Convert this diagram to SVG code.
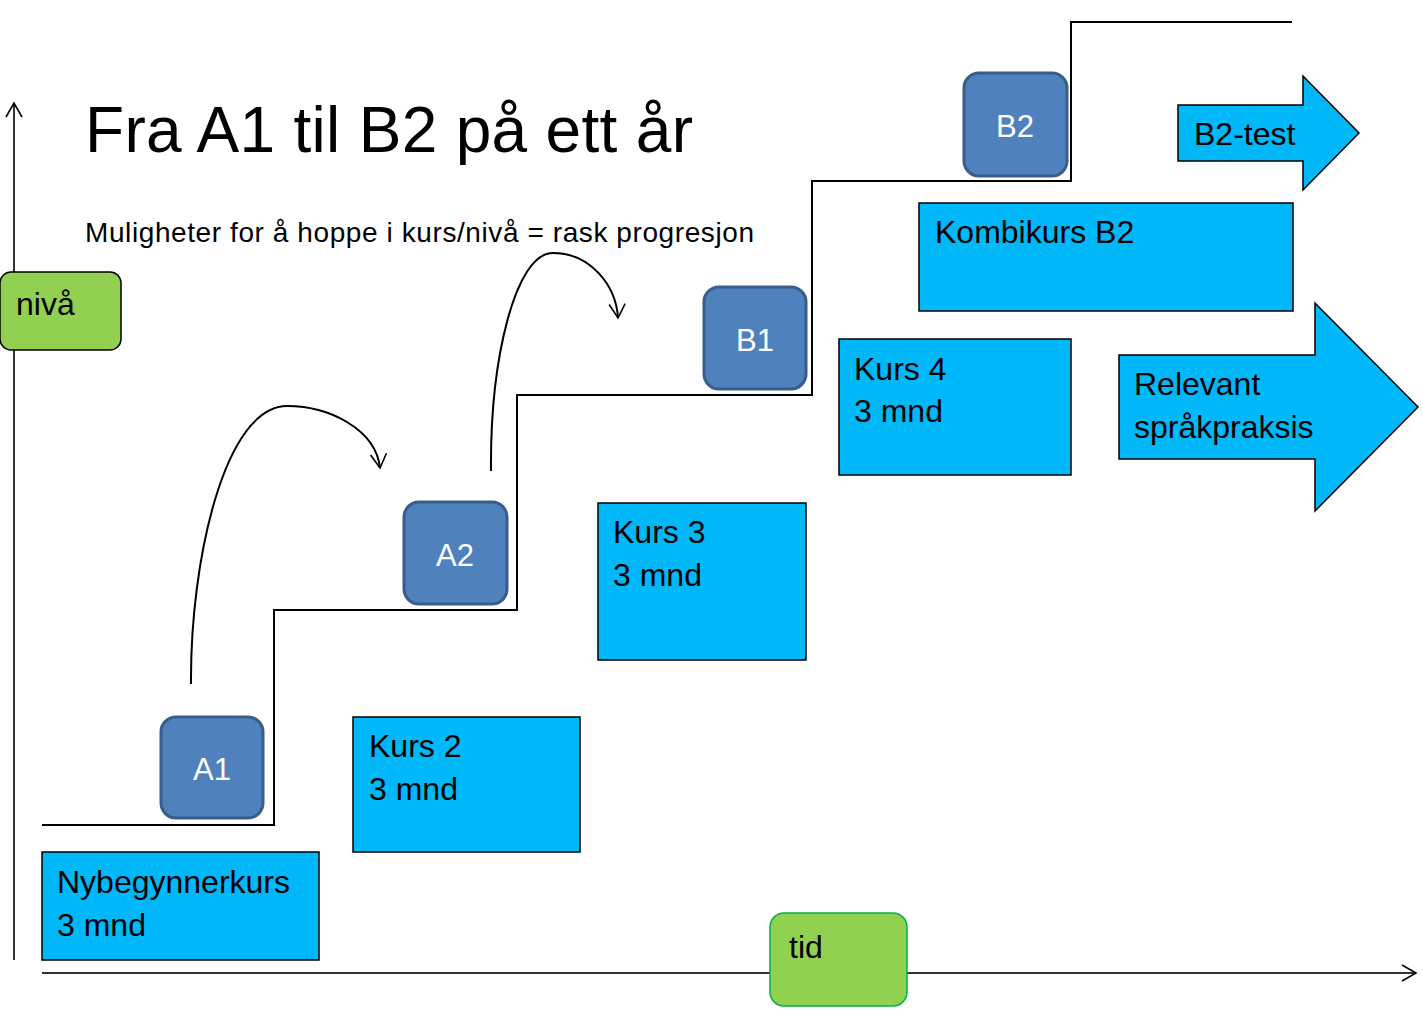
<svg xmlns="http://www.w3.org/2000/svg" width="1423" height="1028" viewBox="0 0 1423 1028">
<style>
text{font-family:"Liberation Sans",Arial,sans-serif;fill:#000}
.lvl rect{fill:#4F81BD;stroke:#385D8A;stroke-width:3}
.lvl text{fill:#fff;font-size:31px;text-anchor:middle}
.kurs rect,.kurs path{fill:#00B7F8;stroke:#000;stroke-width:1.5}
.kurs text{font-size:32px}
.green rect{fill:#92D050}
.green text{font-size:32px}
.line{fill:none;stroke:#000;stroke-width:2}
.axis{fill:none;stroke:#333;stroke-width:2}
</style>
<defs>
<marker id="open" viewBox="0 0 20 20" refX="16" refY="10" markerWidth="20" markerHeight="20" markerUnits="userSpaceOnUse" orient="auto">
<path d="M2,2 L16,10 L2,18" fill="none" stroke="#000" stroke-width="1.6"/>
</marker>
</defs>
<text x="85" y="152" font-size="64" textLength="608">Fra A1 til B2 på ett år</text>
<text x="85" y="242" font-size="28" textLength="669">Muligheter for å hoppe i kurs/nivå = rask progresjon</text>
<g id="connectors">
<path class="axis" d="M14,960 L14,103" marker-end="url(#open)"/>
<path class="axis" d="M42,973 L1416,973" marker-end="url(#open)"/>
<path class="line" d="M42,825 L274,825 L274,610 L517,610 L517,395 L812,395 L812,181 L1071,181 L1071,22 L1292,22"/>
<path class="line" stroke-width="1.5" d="M191,684 C190,560 225,406 287,406 C330,406 376,430 380,468" marker-end="url(#open)"/>
<path class="line" stroke-width="1.5" d="M491,471 C490,360 515,253 553,253 C590,253 616,285 618,318" marker-end="url(#open)"/>
</g>
<g id="niva" class="green"><rect x="0" y="272" width="121" height="78" rx="11" stroke="#000" stroke-width="1.5"/><text x="16" y="315">nivå</text></g>
<g id="tid" class="green"><rect x="770" y="913" width="137" height="93" rx="14" stroke="#00B050" stroke-width="1.5"/><text x="789" y="958">tid</text></g>
<g id="nybegynnerkurs" class="kurs"><rect x="42" y="852" width="277" height="108"/><text x="57" y="893">Nybegynnerkurs</text><text x="57" y="936">3 mnd</text></g>
<g id="kurs2" class="kurs"><rect x="353" y="717" width="227" height="135"/><text x="369" y="757">Kurs 2</text><text x="369" y="800">3 mnd</text></g>
<g id="kurs3" class="kurs"><rect x="598" y="503" width="208" height="157"/><text x="613" y="543">Kurs 3</text><text x="613" y="586">3 mnd</text></g>
<g id="kurs4" class="kurs"><rect x="839" y="339" width="232" height="136"/><text x="854" y="380">Kurs 4</text><text x="854" y="422">3 mnd</text></g>
<g id="kombikurs" class="kurs"><rect x="919" y="203" width="374" height="108"/><text x="935" y="243">Kombikurs B2</text></g>
<g id="b2test" class="kurs"><path d="M1178,105 L1303,105 L1303,76 L1359,133 L1303,190 L1303,161 L1178,161 Z"/><text x="1194" y="145">B2-test</text></g>
<g id="sprakpraksis" class="kurs"><path d="M1119,355 L1315,355 L1315,303 L1418,407 L1315,511 L1315,459 L1119,459 Z"/><text x="1134" y="395">Relevant</text><text x="1134" y="438">språkpraksis</text></g>
<g id="A1" class="lvl"><rect x="161" y="717" width="102" height="101" rx="15"/><text x="212" y="780">A1</text></g>
<g id="A2" class="lvl"><rect x="404" y="502" width="103" height="102" rx="15"/><text x="455" y="566">A2</text></g>
<g id="B1" class="lvl"><rect x="704" y="287" width="102" height="102" rx="15"/><text x="755" y="351">B1</text></g>
<g id="B2" class="lvl"><rect x="964" y="73" width="103" height="103" rx="15"/><text x="1015" y="137">B2</text></g>
</svg>
